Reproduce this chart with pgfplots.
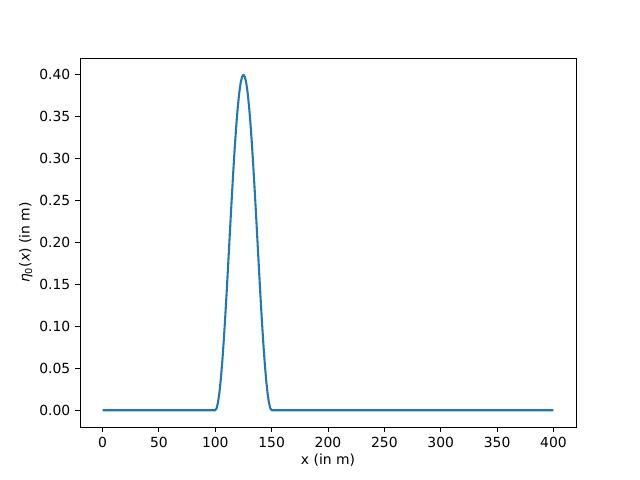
\documentclass[border=0pt]{standalone}
\usepackage{fontspec}
\setmainfont{DejaVu Sans}
\usepackage{pgfplots}
\pgfplotsset{compat=1.18}
\definecolor{mplblue}{HTML}{1F77B4}
\begin{document}
\begin{tikzpicture}
\path (-57.6pt,-38.16pt) rectangle (403.2pt,307.44pt);
\begin{axis}[
  at={(0,0)}, anchor=south west,
  scale only axis, width=357.12pt, height=265.68pt,
  xmin=-20, xmax=420, ymin=-0.02, ymax=0.42,
  xtick={0,50,...,400},
  ytick={0,0.05,0.10,0.15,0.20,0.25,0.30,0.35,0.40},
  yticklabel style={/pgf/number format/.cd,fixed,fixed zerofill,precision=2},
  xticklabel style={/pgf/number format/.cd,fixed,precision=0},
  /pgf/number format/assume math mode=true,
  tick align=outside, tick pos=left,
  major tick length=3.5pt,
  tick style={line width=0.7pt, black},
  axis line style={line width=0.7pt},
  ticklabel style={font=\fontsize{10}{12}\selectfont},
  label style={font=\fontsize{10}{12}\selectfont},
  xlabel={x (in m)},
  ylabel={\textit{η}\textsubscript{0}(\textit{x}) (in m)},
  xlabel style={yshift=2pt},
  ylabel style={yshift=-2pt},
]
\addplot[mplblue, line width=1.5pt, line join=round] coordinates {
(0,0) (100,0) (101.25,0.0025) (102.5,0.0098) (103.75,0.0218) (105,0.0382)
(106.25,0.0586) (107.5,0.0824) (108.75,0.1092) (110,0.1382) (111.25,0.1687)
(112.5,0.2) (113.75,0.2313) (115,0.2618) (116.25,0.2908) (117.5,0.3176)
(118.75,0.3414) (120,0.3618) (121.25,0.3782) (122.5,0.3902) (123.75,0.3975)
(125,0.4) (126.25,0.3975) (127.5,0.3902) (128.75,0.3782) (130,0.3618)
(131.25,0.3414) (132.5,0.3176) (133.75,0.2908) (135,0.2618) (136.25,0.2313)
(137.5,0.2) (138.75,0.1687) (140,0.1382) (141.25,0.1092) (142.5,0.0824)
(143.75,0.0586) (145,0.0382) (146.25,0.0218) (147.5,0.0098) (148.75,0.0025)
(150,0) (400,0)
};
\end{axis}
\end{tikzpicture}
\end{document}
